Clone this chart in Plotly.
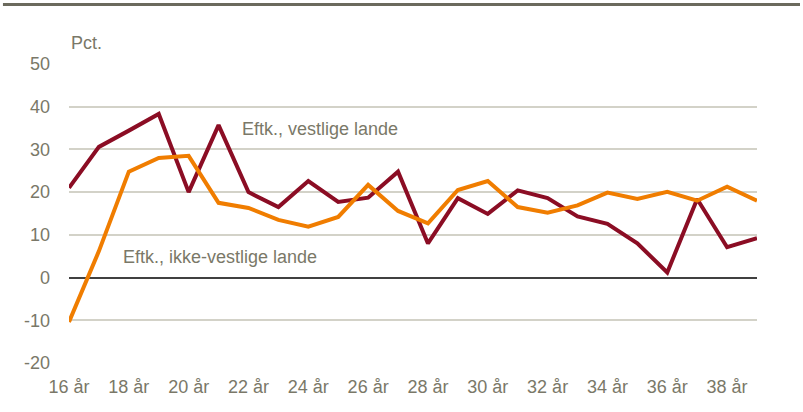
import plotly.graph_objects as go

ages = list(range(16, 40))
age_labels = [f"{a} år" for a in ages]
vestlige = [21.0, 30.6, 34.4, 38.3, 20.0, 35.7, 20.0, 16.5, 22.6, 17.7, 18.7, 24.8,
            8.0, 18.6, 14.9, 20.4, 18.6, 14.3, 12.6, 8.0, 1.2, 18.4, 7.1, 9.2]
ikke_vestlige = [-10.4, 6.2, 24.8, 28.0, 28.5, 17.5, 16.3, 13.5, 11.9, 14.2, 21.7, 15.6,
                 12.7, 20.5, 22.6, 16.5, 15.2, 16.9, 19.9, 18.4, 20.1, 18.0, 21.3, 18.0]
y_ticks = [-20, -10, 0, 10, 20, 30, 40, 50]
y_tick_labels = ["-20", "-10", "0", "10", "20", "30", "40", "50"]
tick_ages = ages[::2]
tick_labels = age_labels[::2]

FONT = "Liberation Sans, Arial"
TXT = "#7a7868"

fig = go.Figure()
fig.add_trace(go.Scatter(x=ages, y=vestlige, mode="lines",
                         line=dict(color="#8b0d24", width=4), name="Eftk., vestlige lande"))
fig.add_trace(go.Scatter(x=ages, y=ikke_vestlige, mode="lines",
                         line=dict(color="#f07d00", width=4), name="Eftk., ikke-vestlige lande"))

fig.update_layout(
    width=803, height=412,
    margin=dict(l=69, r=46, t=64, b=49),
    paper_bgcolor="white", plot_bgcolor="white",
    showlegend=False,
    font=dict(family=FONT, size=18, color=TXT),
    xaxis=dict(range=[16, 39], tickvals=tick_ages, ticktext=tick_labels,
               showgrid=False, zeroline=False, showline=False, ticks="",
               automargin=False,
               tickfont=dict(size=18, color=TXT), ticklabelstandoff=11),
    yaxis=dict(range=[-20, 50], tickvals=y_ticks, ticktext=y_tick_labels, showgrid=True,
               gridcolor="#d3d2c8", gridwidth=1.5,
               zeroline=True, zerolinecolor="#404040", zerolinewidth=1.5,
               showline=False, ticks="", ticklabelstandoff=18, automargin=False,
               tickfont=dict(size=18, color=TXT)),
    shapes=[dict(type="line", xref="paper", yref="paper", x0=-0.096, x1=1.0625,
                 y0=1.199, y1=1.199, line=dict(color="#6b6a5d", width=3))],
    annotations=[
        dict(text="Pct.", xref="paper", yref="paper", x=0, y=1.03, xanchor="left",
             yanchor="bottom", showarrow=False, font=dict(size=18, color=TXT)),
        dict(text="Eftk., vestlige lande", x=21.7, y=34.8, xanchor="left",
             yanchor="middle", showarrow=False, font=dict(size=18, color=TXT)),
        dict(text="Eftk., ikke-vestlige lande", x=17.75, y=4.8, xanchor="left",
             yanchor="middle", showarrow=False, font=dict(size=18, color=TXT)),
    ],
)
fig.write_html("out.html", config={"displayModeBar": False},
               post_script="document.body.style.margin='0';document.body.style.overflow='hidden';")
